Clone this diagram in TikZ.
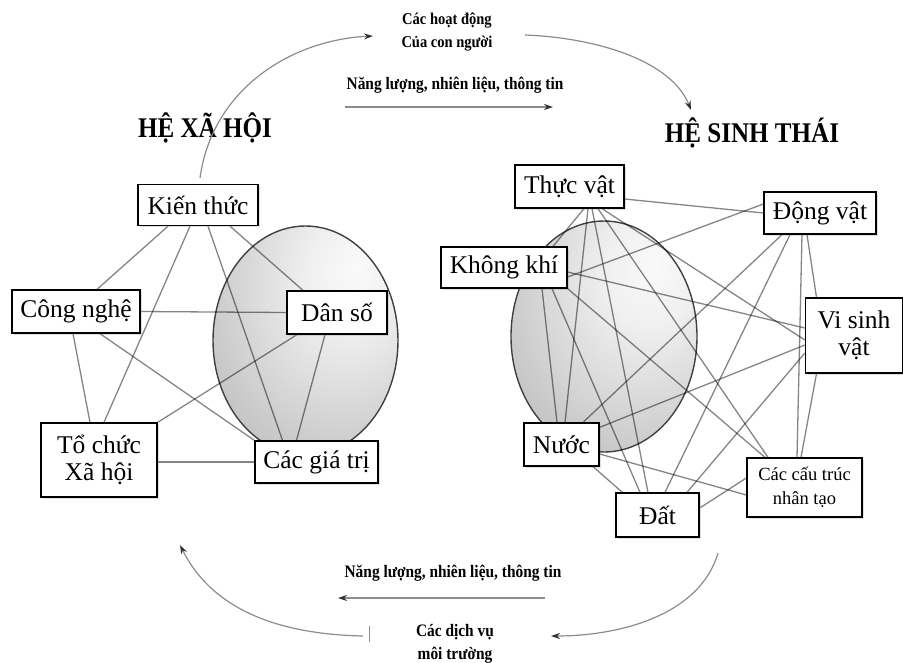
\documentclass[tikz,border=0pt]{standalone}
\usepackage{fontspec}
\setmainfont{Liberation Serif}
\newfontfamily\narrowserif{Liberation Serif}[FakeStretch=0.88]
\usetikzlibrary{arrows.meta,calc,shadows}

% soft grey shading for the two egg-shaped bodies, light at the upper right
\pgfdeclareradialshading{eggshade}{\pgfpoint{14bp}{16bp}}{%
  color(0bp)=(black!2); color(12bp)=(black!6); color(40bp)=(black!24);
  color(70bp)=(black!40); color(100bp)=(black!44)}

\pgfdeclarelayer{bodies}
\pgfdeclarelayer{links}
\pgfsetlayers{bodies,links,main}

\begin{document}
\begin{tikzpicture}[x=1pt,y=-1pt,
  box/.style={draw=black, line width=1.3pt, fill=white, inner sep=0pt, align=center,
    font=\fontsize{25.5}{27}\selectfont,
    drop shadow={opacity=0.25, shadow xshift=1.5pt, shadow yshift=-1.5pt}},
  link/.style={draw=black, draw opacity=0.48, line width=1.3pt},
  egg/.style={draw=black!75, line width=1.4pt, shading=eggshade},
  flow/.style={draw=black!45, line width=1.2pt,
    -{Stealth[length=9pt,width=6pt,color=black!80]}},
  title/.style={font=\narrowserif\bfseries\fontsize{28.5}{30}\selectfont},
  tag/.style={font=\narrowserif\bfseries\fontsize{16.5}{23.5}\selectfont, align=center},
  bigtag/.style={font=\narrowserif\bfseries\fontsize{17.5}{23}\selectfont, align=center}]

\useasboundingbox (0,0) rectangle (903,662);

% ---------------- flows between the two systems ----------------
\node[tag]    (act)  at (447,32)  {Các hoạt động\\Của con người};
\node[bigtag] (etop) at (455,85)  {Năng lượng, nhiên liệu, thông tin};
\node[title]  (soc)  at (205,128) {HỆ XÃ HỘI};
\node[title]  (eco)  at (752,133) {HỆ SINH THÁI};
\node[bigtag] (ebot) at (453,573) {Năng lượng, nhiên liệu, thông tin};
\node[bigtag] (serv) at (455,644) {Các dịch vụ\\môi trường};

\coordinate (a1s) at (200,178);  \coordinate (a1e) at (373,36);
\coordinate (a2s) at (525,35);   \coordinate (a2e) at (691,110);
\coordinate (a3s) at (345,107);  \coordinate (a3e) at (553,107);
\coordinate (b1s) at (718,553);  \coordinate (b1e) at (551,636);
\coordinate (b2s) at (363,636);  \coordinate (b2e) at (180,545);
\coordinate (b3s) at (545,598);  \coordinate (b3e) at (338,598);
\coordinate (t1)  at (369,626);  \coordinate (t2)  at (369,642);

\draw[flow] (a1s) .. controls (212,90) and (290,40) .. (a1e);
\draw[flow] (a2s) .. controls (600,38) and (672,62) .. (a2e);
\draw[flow] (a3s) -- (a3e);
\draw[flow] (b1s) .. controls (700,615) and (620,636) .. (b1e);
\draw[flow] (b2s) .. controls (270,634) and (210,605) .. (b2e);
\draw[flow] (b3s) -- (b3e);
\draw[draw=black!45, line width=1pt] (t1) -- (t2);

% ---------------- the two shaded bodies ----------------
\begin{pgfonlayer}{bodies}
  \path[egg] (305.5,340.5) ellipse [x radius=92.5, y radius=114.5];
  \path[egg] (604,336.5) ellipse [x radius=93, y radius=115.5];
\end{pgfonlayer}

% ---------------- social system ----------------
\node[box, minimum width=120pt, minimum height=41pt] (kien)   at (198,205)   {Kiến thức};
\node[box, minimum width=128pt, minimum height=43pt] (cong)   at (76,311.5)  {Công nghệ};
\node[box, minimum width=100pt, minimum height=43pt] (dan)    at (337,312.5) {Dân số};
\node[box, minimum width=116pt, minimum height=74pt] (tochuc) at (99,460)    {Tổ chức\\Xã hội};
\node[box, minimum width=123pt, minimum height=42pt] (giatri) at (316.5,462) {Các giá trị};

\begin{pgfonlayer}{links}
  \draw[link] ([xshift=-30pt]kien.south) -- ([xshift=21pt]cong.north);
  \draw[link] ([xshift=-8pt]kien.south)  -- ([xshift=5pt]tochuc.north);
  \draw[link] ([xshift=10pt]kien.south)  -- ([xshift=-34pt]giatri.north);
  \draw[link] ([xshift=32pt]kien.south)  -- ([xshift=-34pt]dan.north);
  \draw[link] (cong.east) -- (dan.west);
  \draw[link] ([xshift=24pt]cong.south)  -- (giatri.north west);
  \draw[link] ([xshift=-3pt]cong.south)  -- ([xshift=-9pt]tochuc.north);
  \draw[link] ([xshift=-40pt]dan.south)  -- (tochuc.north east);
  \draw[link] ([xshift=-12pt]dan.south)  -- ([xshift=-20pt]giatri.north);
  \draw[link] ([yshift=-2pt]tochuc.east) -- (giatri.west);
\end{pgfonlayer}

% ---------------- ecosystem ----------------
\node[box, minimum width=109pt, minimum height=43pt] (tv)   at (569.5,186.5) {Thực vật};
\node[box, minimum width=112pt, minimum height=42pt] (dv)   at (820,213)     {Động vật};
\node[box, minimum width=126pt, minimum height=41pt] (kk)   at (504,267.5)   {Không khí};
\node[box, minimum width=97pt,  minimum height=75pt] (vsv)  at (854,335.5)   {Vi sinh\\vật};
\node[box, minimum width=75pt,  minimum height=43pt] (nuoc) at (561.5,444.5) {Nước};
\node[box, minimum width=83pt,  minimum height=44pt] (dat)  at (657.5,515)   {Đất};
\node[box, minimum width=115pt, minimum height=59pt,
      font=\fontsize{18.5}{24}\selectfont]            (cct)  at (804.5,487.5) {Các cấu trúc\\nhân tạo};

\begin{pgfonlayer}{links}
  \draw[link] ([yshift=-12.5pt]tv.east)   -- (dv.west);
  \draw[link] ([xshift=14.5pt]tv.south)   -- ([xshift=49pt]kk.north);
  \draw[link] ([xshift=18.5pt]tv.south)   -- ([xshift=3.5pt]nuoc.north);
  \draw[link] ([xshift=22.5pt]tv.south)   -- ([xshift=-9.5pt]dat.north);
  \draw[link] ([xshift=28.5pt]tv.south)   -- ([xshift=-36.5pt]cct.north);
  \draw[link] ([xshift=32.5pt]tv.south)   -- ([yshift=-4.5pt]vsv.west);
  \draw[link] ([yshift=-9.5pt]kk.east)    -- ([yshift=9pt]dv.west);
  \draw[link] ([yshift=-4.5pt]kk.east)    -- ([yshift=7.5pt]vsv.west);
  \draw[link] ([xshift=38pt]kk.south)     -- ([xshift=-4.5pt]nuoc.north);
  \draw[link] ([xshift=48pt]kk.south)     -- ([xshift=-17.5pt]dat.north);
  \draw[link] (kk.south east)             -- ([xshift=-39.5pt]cct.north);
  \draw[link] ([xshift=-38pt]dv.south)    -- ([xshift=21.5pt]nuoc.north);
  \draw[link] ([xshift=-30pt]dv.south)    -- ([xshift=7.5pt]dat.north);
  \draw[link] ([xshift=-18pt]dv.south)    -- ([xshift=-7.5pt]cct.north);
  \draw[link] ([xshift=-13pt]dv.south)    -- ([xshift=-37.5pt]vsv.north);
  \draw[link] ([yshift=-9.5pt]vsv.west)   -- ([yshift=-5pt]nuoc.north east);
  \draw[link] ([yshift=-17.5pt]vsv.west)  -- ([xshift=29.5pt]dat.north);
  \draw[link] ([xshift=-37.5pt]vsv.south) -- ([xshift=-3.5pt]cct.north);
  \draw[link] ([yshift=-9.5pt]nuoc.east)  -- ([yshift=-7.5pt]cct.west);
  \draw[link] ([xshift=31.5pt]nuoc.south) -- ([xshift=7pt]dat.north west);
  \draw[link] ([yshift=7pt]dat.east)      -- ([yshift=9.5pt]cct.west);
\end{pgfonlayer}

\end{tikzpicture}
\end{document}
